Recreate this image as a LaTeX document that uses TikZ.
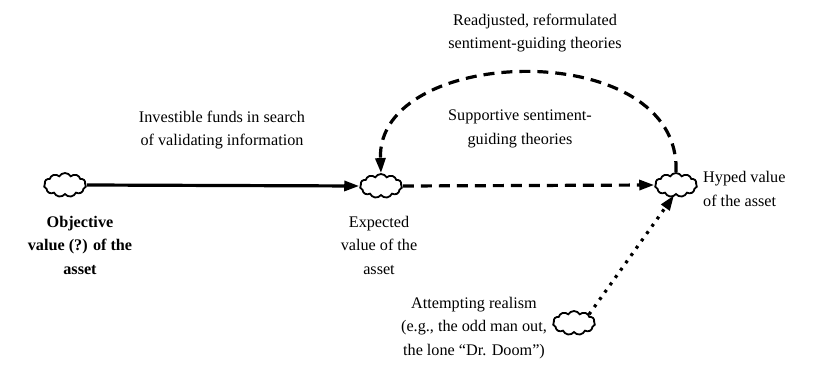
\documentclass[tikz,border=0pt]{standalone}
\usepackage{fontspec}
\setmainfont{Liberation Serif}
\usetikzlibrary{shapes.symbols,arrows.meta}
\begin{document}
\begin{tikzpicture}[x=1pt,y=-1pt,
  cl/.style={cloud, cloud puffs=11, cloud puff arc=120, aspect=2, draw, line width=1.8pt, minimum width=42pt, minimum height=24pt, inner sep=0pt},
  lbl/.style={font=\fontsize{16.2}{23.5}\selectfont, align=center, inner sep=0pt},
  conn/.style={line width=3.2pt, -{Triangle[length=15pt,width=10pt]}},
  dsh/.style={conn, dash pattern=on 11pt off 7pt},
  dtt/.style={conn, dash pattern=on 3pt off 6pt}]
\useasboundingbox (0,0) rectangle (815,390);
\node[cl] (A) at (65,185) {};
\node[cl] (B) at (381,186) {};
\node[cl] (C) at (676,185) {};
\node[cl] (D) at (574,323) {};
\node[lbl, font=\bfseries\fontsize{16.2}{23.5}\selectfont] (tA) at (80,245) {Objective\\value (?) of the\\asset};
\node[lbl] (tB) at (379,245) {Expected\\value of the\\asset};
\node[lbl, align=left, anchor=west] (tC) at (703,189) {Hyped value\\of the asset};
\node[lbl] (tD) at (474,328) {Attempting realism\\(e.g., the odd man out,\\the lone ``Dr. Doom'')};
\node[lbl] (tAB) at (222,130) {Investible funds in search\\of validating information};
\node[lbl] (tBC) at (520,129) {Supportive sentiment-\\guiding theories};
\node[lbl] (tArc) at (535,33) {Readjusted, reformulated\\sentiment-guiding theories};
\draw[conn] (A.east) -- (B.west);
\draw[dsh] (B.east) -- (C.west);
\draw[dsh] (C.north) .. controls (682,36) and (376,44) .. (B.north);
\draw[dtt] (D.north east) -- ([xshift=-2pt]C.south);
\end{tikzpicture}
\end{document}
